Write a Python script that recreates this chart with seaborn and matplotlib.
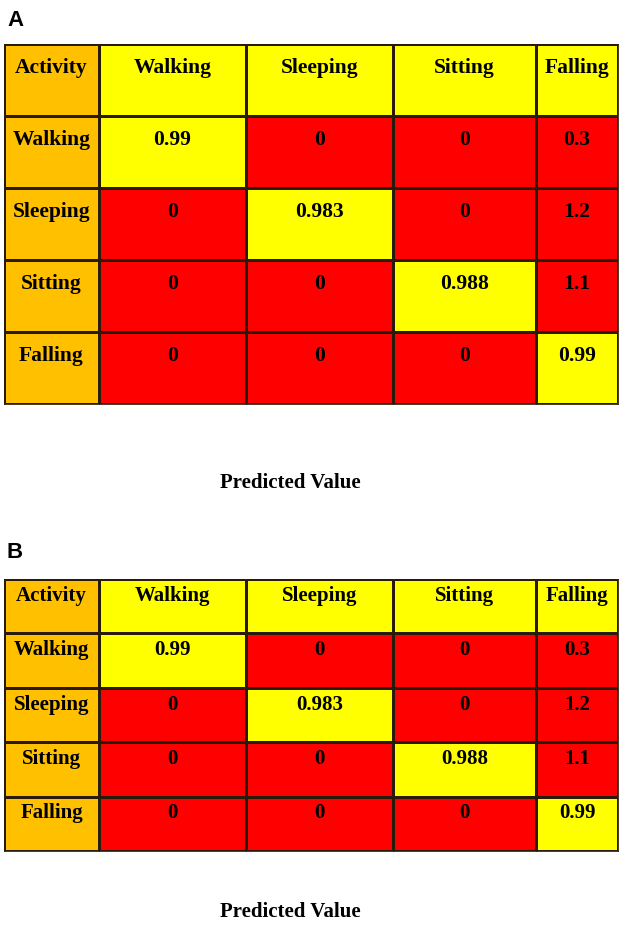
import numpy as np
import seaborn as sns
import matplotlib.pyplot as plt
from matplotlib.colors import ListedColormap

# Données du tableau (matrice de confusion)
header = "Activity"
activities = ["Walking", "Sleeping", "Sitting", "Falling"]
values = [
    ["0.99", "0", "0", "0.3"],
    ["0", "0.983", "0", "1.2"],
    ["0", "0", "0.988", "1.1"],
    ["0", "0", "0", "0.99"],
]
xlabel = "Predicted Value"
panels = ["A", "B"]

# 0 = orange (en-tête), 1 = jaune, 2 = rouge
codes = np.zeros((5, 5), dtype=int)
codes[0, 1:] = 1
for i in range(4):
    for j in range(4):
        codes[i + 1, j + 1] = 1 if i == j else 2

labels = [[header] + activities]
for i, act in enumerate(activities):
    labels.append([act] + values[i])

cmap = ListedColormap(["#FFC000", "#FFFF00", "#FF0000"])
col_widths = [95, 147, 147, 143, 82]
line_col = "#2a1a0a"

W, H = 624, 928
fig = plt.figure(figsize=(W / 100, H / 100), dpi=100)

# position des tableaux en pixels (haut, bas), titre, légende, décalage du texte
boxes = [(45, 405, 20, 483, 0.32, 15.5), (580, 852, 552, 912, 0.29, 15)]

for p, (top, bottom, lab_y, xl_y, dy, fs) in zip(panels, boxes):
    gs = fig.add_gridspec(1, 5, left=4 / W, right=618 / W,
                          top=1 - top / H, bottom=1 - bottom / H,
                          width_ratios=col_widths, wspace=0)
    for j in range(5):
        ax = fig.add_subplot(gs[0, j])
        sns.heatmap(codes[:, [j]], cmap=cmap, vmin=-0.5, vmax=2.5, cbar=False,
                    linewidths=0.75, linecolor=line_col, ax=ax)
        ax.set_xticks([])
        ax.set_yticks([])
        for s in ax.spines.values():
            s.set_visible(True)
            s.set_linewidth(0.6)
            s.set_color(line_col)
        for i in range(5):
            ax.text(0.5, i + dy, labels[i][j], ha="center", va="center",
                    fontsize=fs, fontweight="bold", family="Liberation Serif")
    fig.text(7 / W, 1 - lab_y / H, p, ha="left", va="center",
             fontsize=16, fontweight="bold", family="Liberation Sans")
    fig.text(290 / W, 1 - xl_y / H, xlabel, ha="center", va="center",
             fontsize=15, fontweight="bold", family="Liberation Serif")

plt.savefig("out.png", dpi=100)
